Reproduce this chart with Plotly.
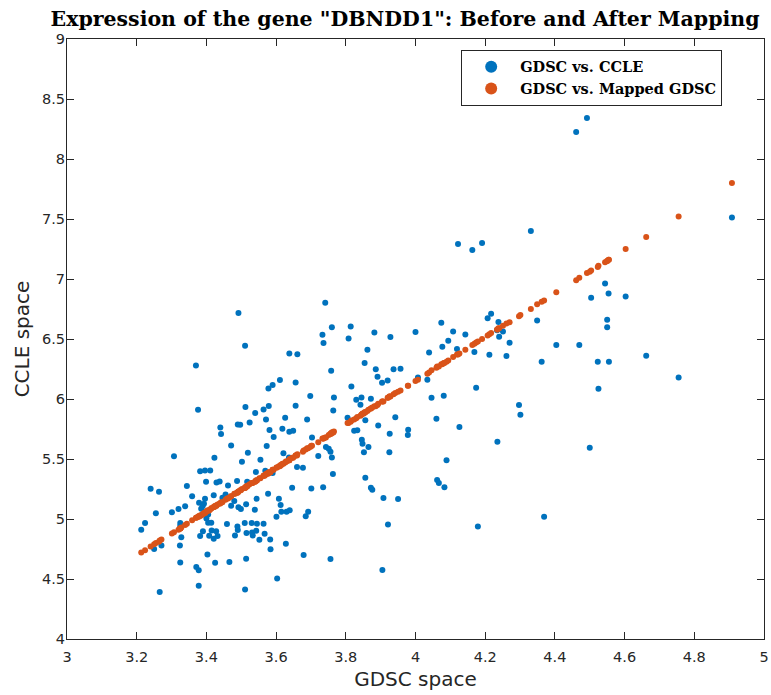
import plotly.graph_objects as go

# GDSC expression (x) for each cell line
gdsc = [3.492, 3.511, 3.370, 3.376, 3.512, 3.540, 3.741, 3.760, 3.814, 3.733,
        3.736, 3.808, 3.882, 3.928, 3.862, 3.638, 3.661, 3.854, 3.886, 3.758,
        3.891, 3.904, 3.920, 3.611, 3.590, 3.578, 3.656, 3.816, 3.698, 3.766,
        3.830, 3.845, 3.872, 3.842, 3.564, 3.579, 3.656, 3.764, 3.626, 3.571,
        3.689, 3.805, 4.074, 4.000, 4.207, 4.217, 4.238, 4.108, 4.143, 4.094,
        4.234, 4.251, 4.240, 4.270, 4.077, 4.039, 4.119, 4.169, 4.212, 4.261,
        3.937, 3.957, 4.007, 4.034, 4.174, 4.046, 4.081, 4.297, 3.942, 4.060,
        3.440, 3.442, 3.490, 3.497, 3.524, 3.471, 3.307, 3.423, 3.519, 3.555,
        3.502, 3.382, 3.396, 3.411, 3.542, 3.399, 3.429, 3.438, 3.462, 3.488,
        3.517, 3.344, 3.240, 3.264, 3.359, 3.421, 3.446, 3.379, 3.396, 3.393,
        3.455, 3.480, 3.471, 3.492, 3.499, 3.514, 3.539, 3.544, 3.385, 3.389,
        3.339, 3.320, 3.301, 3.255, 3.405, 3.400, 3.405, 3.414, 3.459, 3.489,
        3.510, 3.530, 3.545, 3.224, 3.213, 3.325, 3.325, 3.390, 3.382, 3.328,
        3.415, 3.408, 3.428, 3.421, 3.432, 3.490, 3.482, 3.515, 3.531, 3.543,
        3.533, 3.552, 3.271, 3.250, 3.324, 3.403, 3.325, 3.371, 3.378, 3.425,
        3.466, 3.514, 3.378, 3.266, 3.511, 3.856, 3.581, 3.593, 3.618, 3.638,
        3.649, 3.703, 3.573, 3.621, 3.637, 3.660, 3.677, 3.721, 3.743, 3.751,
        3.756, 3.760, 3.763, 3.569, 3.590, 3.824, 3.833, 3.846, 3.848, 3.865,
        3.852, 3.893, 3.926, 3.925, 3.856, 3.872, 3.876, 3.908, 3.921, 3.646,
        3.701, 3.735, 3.577, 3.608, 3.613, 3.615, 3.630, 3.639, 3.601, 3.692,
        3.685, 3.564, 3.567, 3.583, 3.584, 3.628, 3.679, 3.756, 3.905, 3.603,
        3.979, 3.978, 4.126, 4.235, 4.089, 4.062, 4.067, 4.083, 3.950, 4.179,
        4.122, 4.163, 4.191, 4.492, 4.461, 4.908, 4.331, 4.544, 4.554, 4.504,
        4.603, 4.349, 4.550, 4.550, 4.404, 4.470, 4.362, 4.523, 4.555, 4.662,
        4.755, 4.525, 4.301, 4.500, 4.369]

# CCLE expression (y, blue)
ccle = [6.717, 6.444, 6.280, 5.911, 5.933, 5.883, 6.803, 6.597, 6.605, 6.536,
        6.467, 6.505, 6.555, 6.517, 6.411, 6.380, 6.372, 6.300, 6.247, 6.236,
        6.186, 6.136, 6.155, 6.158, 6.117, 6.088, 6.138, 6.105, 6.025, 6.013,
        5.994, 6.013, 6.003, 5.953, 5.913, 5.942, 5.944, 5.905, 5.844, 5.830,
        5.830, 5.844, 6.636, 6.558, 6.672, 6.711, 6.642, 6.563, 6.538, 6.486,
        6.572, 6.563, 6.519, 6.469, 6.436, 6.388, 6.417, 6.392, 6.369, 6.358,
        6.247, 6.253, 6.180, 6.161, 6.094, 6.011, 6.028, 5.950, 5.847, 5.836,
        5.763, 5.708, 5.788, 5.785, 5.805, 5.613, 5.522, 5.511, 5.553, 5.494,
        5.478, 5.397, 5.405, 5.405, 5.392, 5.311, 5.305, 5.313, 5.280, 5.317,
        5.311, 5.275, 5.253, 5.228, 5.189, 5.197, 5.178, 5.136, 5.169, 5.128,
        5.205, 5.150, 5.111, 5.097, 5.083, 5.122, 5.078, 5.169, 5.086, 5.106,
        5.106, 5.083, 5.056, 5.047, 5.038, 5.005, 4.969, 4.969, 4.958, 4.938,
        4.967, 4.967, 4.961, 4.967, 4.911, 4.967, 4.944, 4.897, 4.858, 4.847,
        4.905, 4.861, 4.897, 4.836, 4.858, 4.908, 4.863, 4.883, 4.888, 4.903,
        4.863, 4.828, 4.780, 4.750, 4.780, 4.705, 4.638, 4.600, 4.572, 4.636,
        4.642, 4.669, 4.444, 4.392, 4.413, 5.822, 5.742, 5.683, 5.753, 5.728,
        5.736, 5.680, 5.608, 5.547, 5.513, 5.433, 5.428, 5.525, 5.600, 5.586,
        5.561, 5.513, 5.375, 5.403, 5.383, 5.736, 5.739, 5.661, 5.628, 5.600,
        5.556, 5.780, 5.711, 5.556, 5.344, 5.261, 5.244, 5.175, 4.955, 5.261,
        5.255, 5.264, 5.211, 5.169, 5.117, 5.061, 5.061, 5.072, 5.019, 5.061,
        5.022, 4.961, 4.878, 4.830, 4.747, 4.794, 4.700, 4.667, 4.575, 4.505,
        5.744, 5.700, 5.767, 5.644, 5.489, 5.325, 5.300, 5.264, 5.167, 4.938,
        7.292, 7.242, 7.300, 8.342, 8.225, 7.513, 7.400, 6.963, 6.880, 6.844,
        6.855, 6.655, 6.661, 6.597, 6.450, 6.450, 6.311, 6.311, 6.311, 6.361,
        6.180, 6.086, 5.869, 5.594, 5.019]

# Mapped GDSC expression (y, orange)
mapped = [5.23, 5.26, 5.01, 5.02, 5.26, 5.31, 5.68, 5.72, 5.81, 5.67,
          5.67, 5.80, 5.94, 6.02, 5.90, 5.49, 5.54, 5.89, 5.94, 5.71,
          5.95, 5.98, 6.01, 5.44, 5.41, 5.38, 5.53, 5.82, 5.60, 5.73,
          5.84, 5.87, 5.92, 5.86, 5.36, 5.39, 5.53, 5.72, 5.47, 5.37,
          5.59, 5.80, 6.29, 6.15, 6.53, 6.55, 6.59, 6.35, 6.41, 6.32,
          6.58, 6.61, 6.59, 6.64, 6.29, 6.22, 6.37, 6.46, 6.54, 6.63,
          6.04, 6.07, 6.16, 6.21, 6.47, 6.24, 6.30, 6.69, 6.05, 6.26,
          5.13, 5.14, 5.22, 5.24, 5.29, 5.19, 4.89, 5.10, 5.28, 5.34,
          5.25, 5.03, 5.05, 5.08, 5.32, 5.06, 5.11, 5.13, 5.17, 5.22,
          5.27, 4.96, 4.77, 4.81, 4.99, 5.10, 5.14, 5.02, 5.05, 5.05,
          5.16, 5.21, 5.19, 5.23, 5.24, 5.27, 5.31, 5.32, 5.03, 5.04,
          4.95, 4.91, 4.88, 4.80, 5.07, 5.06, 5.07, 5.09, 5.17, 5.22,
          5.26, 5.30, 5.32, 4.74, 4.72, 4.92, 4.92, 5.04, 5.03, 4.93,
          5.09, 5.07, 5.11, 5.10, 5.12, 5.22, 5.21, 5.27, 5.30, 5.32,
          5.30, 5.34, 4.83, 4.79, 4.92, 5.07, 4.92, 5.01, 5.02, 5.11,
          5.18, 5.27, 5.02, 4.82, 5.26, 5.89, 5.39, 5.41, 5.46, 5.49,
          5.51, 5.61, 5.38, 5.46, 5.49, 5.53, 5.56, 5.64, 5.68, 5.70,
          5.71, 5.72, 5.72, 5.37, 5.41, 5.83, 5.85, 5.87, 5.88, 5.91,
          5.88, 5.96, 6.02, 6.02, 5.89, 5.92, 5.93, 5.98, 6.01, 5.51,
          5.61, 5.67, 5.38, 5.44, 5.45, 5.45, 5.48, 5.50, 5.43, 5.59,
          5.58, 5.36, 5.36, 5.39, 5.39, 5.48, 5.57, 5.71, 5.98, 5.43,
          6.11, 6.11, 6.38, 6.58, 6.31, 6.27, 6.27, 6.30, 6.06, 6.48,
          6.37, 6.45, 6.50, 7.05, 6.99, 7.80, 6.75, 7.14, 7.16, 7.07,
          7.25, 6.79, 7.15, 7.15, 6.89, 7.01, 6.81, 7.10, 7.16, 7.35,
          7.52, 7.11, 6.70, 7.06, 6.82]

x_ticks = [3, 3.2, 3.4, 3.6, 3.8, 4, 4.2, 4.4, 4.6, 4.8, 5]
x_tick_labels = ["3", "3.2", "3.4", "3.6", "3.8", "4", "4.2", "4.4", "4.6", "4.8", "5"]
y_ticks = [4, 4.5, 5, 5.5, 6, 6.5, 7, 7.5, 8, 8.5, 9]
y_tick_labels = ["4", "4.5", "5", "5.5", "6", "6.5", "7", "7.5", "8", "8.5", "9"]

BLUE = "#0072BD"
ORANGE = "#D95319"
AX = "#262626"

fig = go.Figure()
fig.add_trace(go.Scatter(x=gdsc, y=ccle, mode="markers", name="GDSC vs. CCLE",
                         marker=dict(color=BLUE, size=6, line=dict(width=0))))
fig.add_trace(go.Scatter(x=gdsc, y=mapped, mode="markers", name="GDSC vs. Mapped GDSC",
                         marker=dict(color=ORANGE, size=6, line=dict(width=0))))

axis_common = dict(
    showgrid=False, zeroline=False, showline=True, linecolor=AX, linewidth=1,
    mirror="ticks", ticks="inside", ticklen=7, tickwidth=1, tickcolor=AX,
    tickfont=dict(family="DejaVu Sans", size=14.5, color=AX),
    automargin=False,
)

fig.update_layout(
    width=771, height=695,
    margin=dict(l=67, r=7, t=39, b=56),
    paper_bgcolor="white", plot_bgcolor="white",
    title=dict(text='Expression of the gene "DBNDD1": Before and After Mapping',
               x=0.485, xref="paper", xanchor="center",
               y=0.9735, yref="container", yanchor="middle",
               font=dict(family="DejaVu Serif", size=20.5, color="black", weight="bold")),
    xaxis=dict(range=[3, 5], tickvals=x_ticks, ticktext=x_tick_labels,
               ticklabelstandoff=5,
               title=dict(text="GDSC space", standoff=7,
                          font=dict(family="DejaVu Sans", size=20, color=AX)),
               **axis_common),
    yaxis=dict(range=[4, 9], tickvals=y_ticks, ticktext=y_tick_labels,
               ticklabelstandoff=-2,
               title=dict(text="CCLE space", standoff=7,
                          font=dict(family="DejaVu Sans", size=20, color=AX)),
               **axis_common),
    legend=dict(x=0.940, y=0.982, xanchor="right", yanchor="top",
                bgcolor="white", bordercolor=AX, borderwidth=1,
                font=dict(family="DejaVu Serif", size=14.5, color="black", weight="bold"),
                itemsizing="constant", itemwidth=48, tracegroupgap=0),
    showlegend=True,
)

# remove the default page margin so the 771x695 figure fills the window exactly
fig.write_html("out.html",
               config={"displayModeBar": False},
               post_script="document.body.style.margin='0';document.body.style.overflow='hidden';")
